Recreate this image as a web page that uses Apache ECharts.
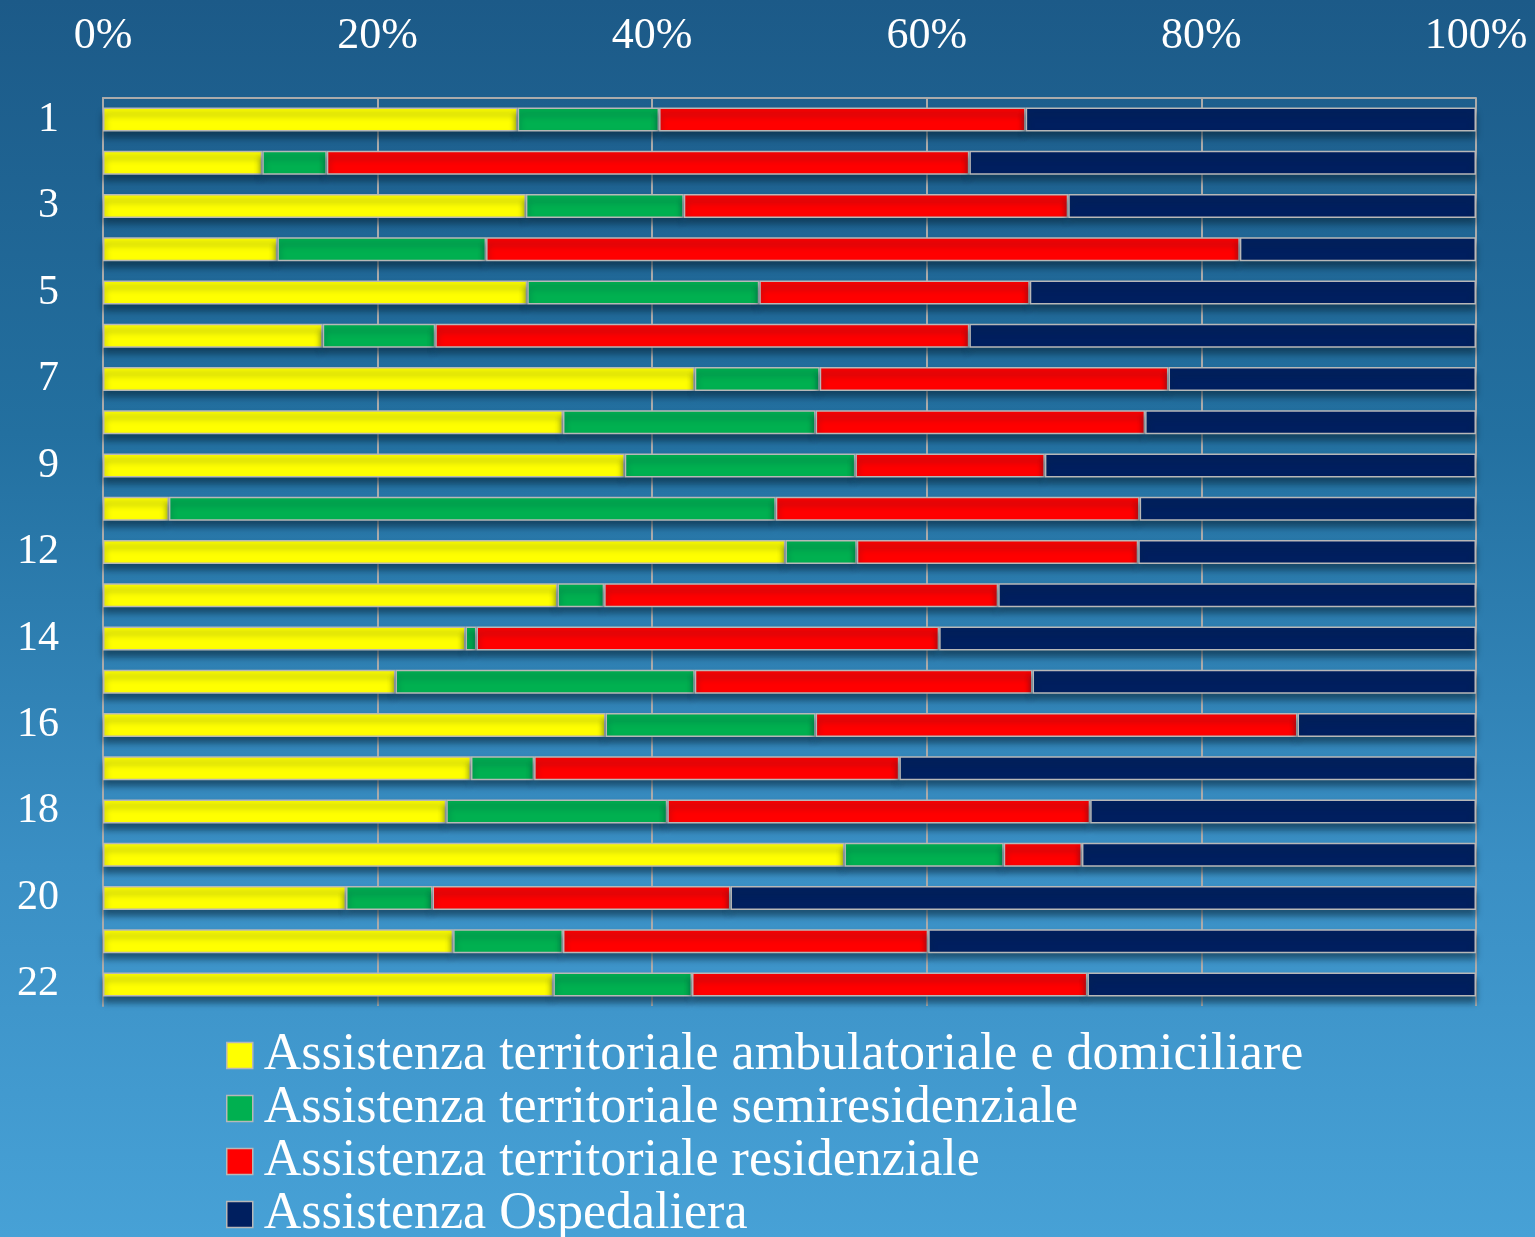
<!DOCTYPE html>
<html>
<head>
<meta charset="utf-8">
<script src="https://cdn.jsdelivr.net/npm/echarts@6/dist/echarts.min.js"></script>
<style>
  html, body { margin: 0; padding: 0; }
  body {
    width: 1535px; height: 1237px; overflow: hidden;
    background: linear-gradient(to bottom, #1c5a88 0%, #2370a0 35%, #3a8fc4 70%, #47a1d6 100%);
  }
  #chart { width: 1535px; height: 1237px; }
</style>
</head>
<body>
<div id="chart"></div>
<script>
// categorie (asse verticale, dall'alto in basso)
const categories = ['1', '2', '3', '4', '5', '6', '7', '8', '9', '10', '12', '13', '14', '15', '16', '17', '18', '19', '20', '21', '22']

const seriesNames = [
  'Assistenza territoriale ambulatoriale e domiciliare',
  'Assistenza territoriale semiresidenziale',
  'Assistenza territoriale residenziale',
  'Assistenza Ospedaliera'
]

// quote percentuali
const ambulatoriale = [30.2, 11.6, 30.8, 12.7, 30.9, 16.0, 43.1, 33.5, 38.0, 4.8, 49.7, 33.1, 26.4, 21.3, 36.6, 26.8, 25.0, 54.0, 17.7, 25.5, 32.8]
const semiresidenziale = [10.3, 4.7, 11.5, 15.2, 16.9, 8.2, 9.1, 18.4, 16.8, 44.2, 5.2, 3.4, 0.8, 21.8, 15.3, 4.6, 16.1, 11.6, 6.3, 8.0, 10.1]
const residenziale = [26.7, 46.8, 28.0, 54.9, 19.7, 38.9, 25.4, 24.0, 13.8, 26.5, 20.5, 28.7, 33.7, 24.6, 35.1, 26.6, 30.8, 5.7, 21.7, 26.6, 28.8]
const ospedaliera = [32.8, 36.9, 29.7, 17.2, 32.5, 36.9, 22.4, 24.1, 31.4, 24.5, 24.6, 34.8, 39.1, 32.3, 13.0, 42.0, 28.1, 28.7, 54.3, 39.9, 28.3]

const xTicks = [0, 20, 40, 60, 80, 100]

const colors = ['#FFFF00', '#00B050', '#FF0000', '#001F5F']
const serifFont = '"Liberation Serif", "DejaVu Serif", serif'

const chart = echarts.init(document.getElementById('chart'))

const barStyle = {
  borderColor: '#B8B8B8',
  borderWidth: 1.5,
  shadowColor: 'rgba(10, 40, 60, 0.6)',
  shadowBlur: 6,
  shadowOffsetY: 6
}

const option = {
  backgroundColor: 'transparent',
  animation: false,
  color: colors,
  grid: { left: 103, right: 59, top: 98, bottom: 231, containLabel: false },
  legend: {
    orient: 'vertical',
    left: 226,
    top: 1029,
    height: 240,
    padding: 0,
    itemWidth: 26,
    itemHeight: 26,
    itemGap: 0,
    icon: 'rect',
    itemStyle: { borderColor: '#B8B8B8', borderWidth: 1.5, shadowBlur: 0, shadowOffsetY: 0 },
    textStyle: { color: '#FFFFFF', fontSize: 52, lineHeight: 53, fontFamily: serifFont, padding: [0, 0, 0, 6] },
    data: seriesNames
  },
  xAxis: {
    type: 'value',
    position: 'top',
    min: xTicks[0],
    max: xTicks[xTicks.length - 1],
    interval: 20,
    axisLine: { show: true, lineStyle: { color: '#ABABAB', width: 2 } },
    axisTick: { show: false },
    axisLabel: {
      color: '#FFFFFF',
      fontSize: 44,
      fontFamily: serifFont,
      margin: 40,
      formatter: '{value}%'
    },
    splitLine: { show: true, lineStyle: { color: '#ABABAB', width: 2 } }
  },
  yAxis: {
    type: 'category',
    inverse: true,
    data: categories,
    axisLine: { show: true, lineStyle: { color: '#ABABAB', width: 2 } },
    axisTick: { show: false },
    axisLabel: {
      interval: 1,
      color: '#FFFFFF',
      fontSize: 42,
      fontFamily: serifFont,
      margin: 44,
      padding: [6, 0, 0, 0]
    }
  },
  series: [ambulatoriale, semiresidenziale, residenziale, ospedaliera].map((vals, i) => ({
    name: seriesNames[i],
    type: 'bar',
    stack: 'totale',
    barWidth: 24,
    data: vals,
    itemStyle: Object.assign({ color: colors[i] }, barStyle)
  }))
}

chart.setOption(option)
</script>
</body>
</html>
